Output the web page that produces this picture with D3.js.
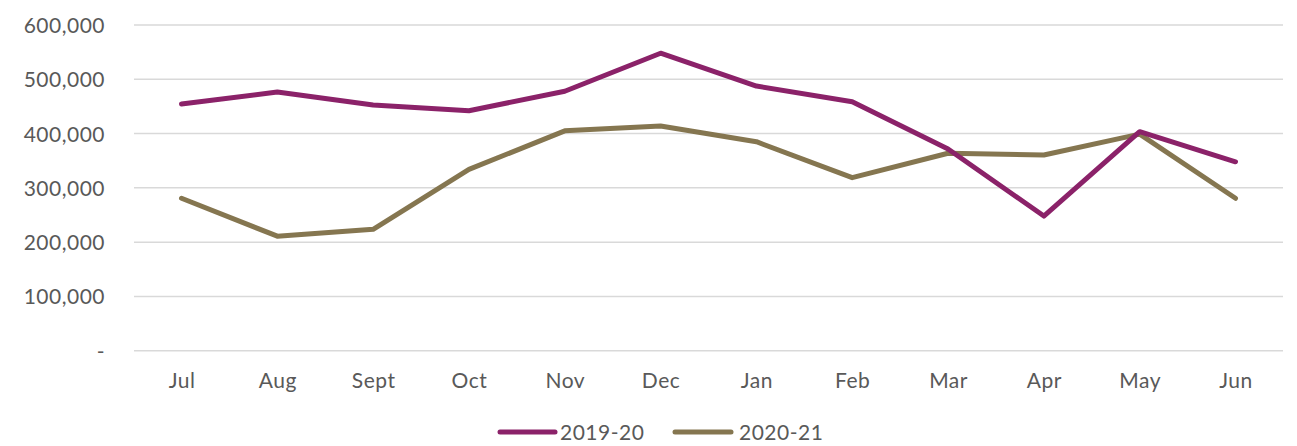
<!DOCTYPE html>
<html><head><meta charset="utf-8">
<script src="https://cdn.jsdelivr.net/npm/d3@7"></script>
<style>body{margin:0;background:#fff}svg text{font-family:Lato,"Noto Sans",sans-serif;fill:#595959;letter-spacing:0.5px}</style>
</head><body><svg id="c" width="1297" height="446"></svg>
<script>
const months = ["Jul","Aug","Sept","Oct","Nov","Dec","Jan","Feb","Mar","Apr","May","Jun"];
const s2019 = [454500,476600,452700,442000,478000,548000,487600,458700,371600,248000,403500,348000];
const s2020 = [280800,211000,223600,334000,405000,414000,385000,318700,363700,360500,399000,280800];
const seriesNames = ["2019-20","2020-21"];
const colors = ["#8B2269","#857650"];
const yTicks = [0,100000,200000,300000,400000,500000,600000];

const svg = d3.select("#c");
const x = d3.scalePoint().domain(months).range([181.5,1235.5]);
const y = d3.scaleLinear().domain([0,600000]).range([350.7,25]);
const fmt = d3.format(",");

svg.append("g").selectAll("line").data(yTicks).join("line")
  .attr("x1",134).attr("x2",1283).attr("y1",d=>y(d)).attr("y2",d=>y(d))
  .attr("stroke","#d9d9d9").attr("stroke-width",1.5);

const yAxis = d3.axisLeft(y).tickValues(yTicks).tickSize(0).tickPadding(0)
  .tickFormat(d=>d===0?"-":fmt(d));
const ya = svg.append("g").attr("transform","translate(105,0)").call(yAxis);
ya.select(".domain").remove();
ya.selectAll("text").style("font-size","21px").attr("fill","#595959").attr("dy","0.36em");

const xAxis = d3.axisBottom(x).tickSize(0).tickPadding(0);
const xa = svg.append("g").attr("transform","translate(0,380)").call(xAxis);
xa.select(".domain").remove();
xa.selectAll("text").style("font-size","21px").attr("fill","#595959").attr("y",0).attr("dy","0.36em");

const line = d3.line().x((d,i)=>x(months[i])).y(d=>y(d));
[s2020,s2019].forEach((s,k)=>{
  const idx = k===0?1:0;
  svg.append("path").datum(s).attr("d",line).attr("fill","none")
    .attr("stroke",colors[idx]).attr("stroke-width",5).attr("stroke-linecap","round").attr("stroke-linejoin","round");
});

const leg = [{x1:500,x2:555,tx:560},{x1:675,x2:731,tx:739}];
seriesNames.forEach((n,i)=>{
  svg.append("line").attr("x1",leg[i].x1).attr("x2",leg[i].x2).attr("y1",432).attr("y2",432)
    .attr("stroke",colors[i]).attr("stroke-width",5).attr("stroke-linecap","round");
  svg.append("text").attr("x",leg[i].tx).attr("y",432).attr("dy","0.36em").style("font-size","21px").text(n);
});
</script></body></html>
